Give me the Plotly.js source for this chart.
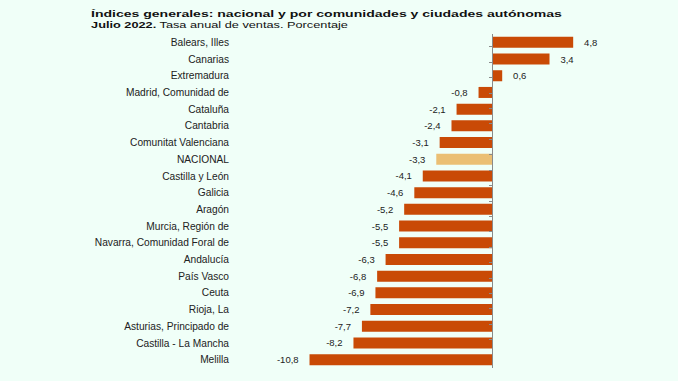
<!DOCTYPE html>
<html>
<head>
<meta charset="utf-8">
<script src="https://cdn.plot.ly/plotly-3.0.1.min.js"></script>
<style>
html,body{margin:0;padding:0;background:#f0fff8;}
#chart{width:678px;height:381px;}
#chart .gtitle{
  transform-box: fill-box; transform-origin: left center; transform: scaleX(1.56);
}
#chart .annotation-text{
  transform-box: fill-box; transform-origin: left center; transform: scaleX(1.50);
}
</style>
</head>
<body>
<div id="chart"></div>
<script>
const categories = [
  "Balears, Illes", "Canarias", "Extremadura", "Madrid, Comunidad de", "Cataluña",
  "Cantabria", "Comunitat Valenciana", "NACIONAL", "Castilla y León", "Galicia",
  "Aragón", "Murcia, Región de", "Navarra, Comunidad Foral de", "Andalucía", "País Vasco",
  "Ceuta", "Rioja, La", "Asturias, Principado de", "Castilla - La Mancha", "Melilla"
];
const values = [4.8, 3.4, 0.6, -0.8, -2.1, -2.4, -3.1, -3.3, -4.1, -4.6,
  -5.2, -5.5, -5.5, -6.3, -6.8, -6.9, -7.2, -7.7, -8.2, -10.8];
const titleText = "Índices generales: nacional y por comunidades y ciudades autónomas";
const subtitleBold = "Julio 2022.";
const subtitleText = " Tasa anual de ventas. Porcentaje";

const mainColor = "#c94a06";
const natColor = "#ebbf74";
const bg = "#f0fff8";
const font = "Liberation Sans, Arial, sans-serif";

const fmt = v => v.toFixed(1).replace('.', ',');
const labels = values.map(v => v >= 0 ? '\u00a0\u00a0\u00a0' + fmt(v) : fmt(v) + '\u00a0\u00a0\u00a0');
const colors = categories.map(c => c === 'NACIONAL' ? natColor : mainColor);

const xmin = -15.15, xmax = 7.57;
const zeroPos = (0 - xmin) / (xmax - xmin);

const traces = [
  {
    type: 'bar', orientation: 'h', x: values, y: categories,
    marker: {color: colors, line: {width: 0}},
    text: labels, textposition: 'outside', cliponaxis: false,
    textfont: {family: font, size: 9.5, color: '#222'},
    hoverinfo: 'skip'
  },
  {
    type: 'scatter', mode: 'markers', x: values, y: categories, yaxis: 'y2',
    marker: {opacity: 0}, hoverinfo: 'skip', showlegend: false
  }
];

const layout = {
  width: 678, height: 381,
  margin: {l: 236, r: 58, t: 34, b: 13},
  paper_bgcolor: bg, plot_bgcolor: bg,
  showlegend: false,
  bargap: 0.34,
  font: {family: font, color: '#222'},
  title: {
    text: '<b>' + titleText + '</b>',
    font: {family: font, size: 9, color: '#111'},
    xref: 'container', yref: 'container', x: 91/678, xanchor: 'left',
    y: 1 - 14.2/381, yanchor: 'middle'
  },
  annotations: [{
    text: '<b>' + subtitleBold + '</b>' + subtitleText,
    xref: 'paper', yref: 'paper', x: (89 - 236) / 384, xanchor: 'left',
    y: (368 - 24.9) / 334, yanchor: 'middle', showarrow: false,
    font: {family: font, size: 8.5, color: '#111'}
  }],
  xaxis: {
    range: [xmin, xmax], visible: false, zeroline: false, showgrid: false, fixedrange: true
  },
  yaxis: {
    type: 'category', categoryorder: 'array', categoryarray: categories,
    autorange: 'reversed', showgrid: false, showline: false, ticks: '',
    ticklabelstandoff: 6,
    tickfont: {family: font, size: 10.2, color: '#222'}, zeroline: false
  },
  yaxis2: {
    type: 'category', categoryorder: 'array', categoryarray: categories,
    autorange: 'reversed', overlaying: 'y', anchor: 'free', position: zeroPos,
    side: 'left', showgrid: false, showline: true, linecolor: '#8a8a8a', linewidth: 1,
    ticks: 'outside', tickson: 'boundaries', ticklen: 3, tickcolor: '#8a8a8a',
    showticklabels: false, zeroline: false
  }
};

Plotly.newPlot('chart', traces, layout, {displayModeBar: false, staticPlot: true});
</script>
</body>
</html>
